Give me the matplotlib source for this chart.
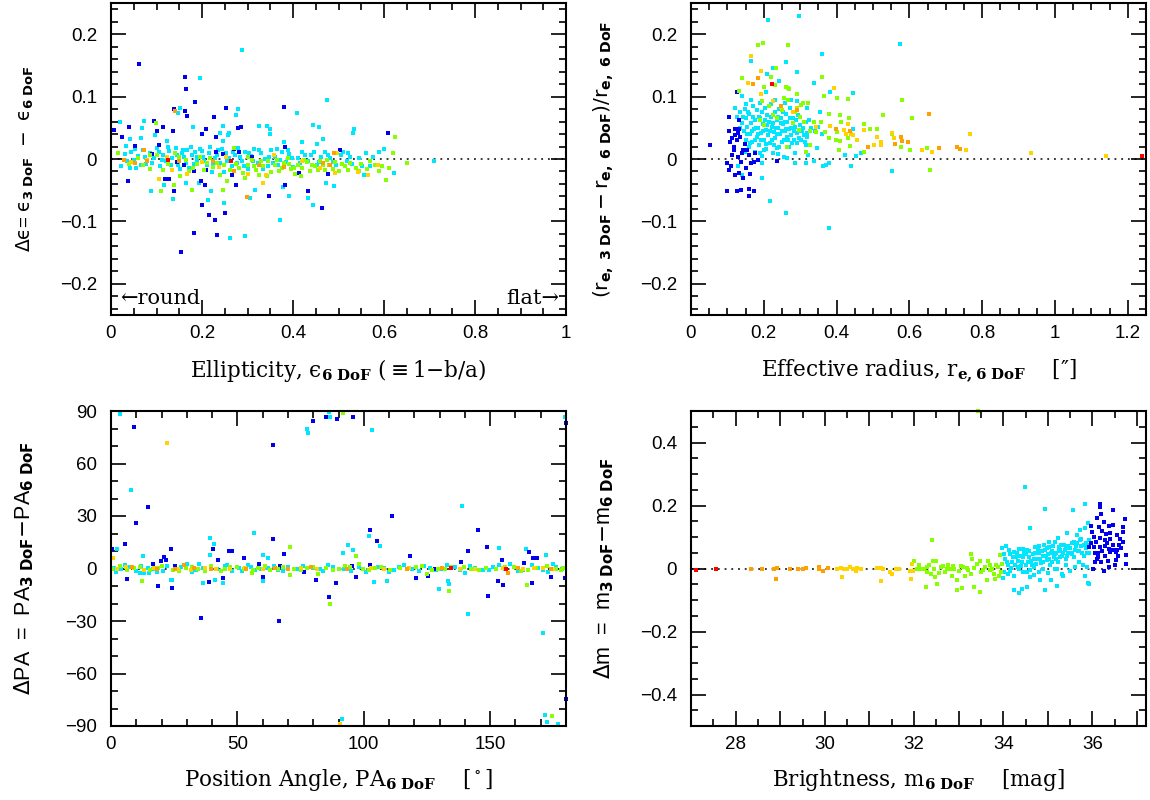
import matplotlib
matplotlib.use('Agg')
import matplotlib.pyplot as plt
from matplotlib.ticker import MultipleLocator

# colour per magnitude bin (bright -> faint)
COLORS = {'red': '#ff0000', 'orange': '#ffa000', 'yellow': '#ffd200',
          'green': '#88ff00', 'cyan': '#00e6ff', 'blue': '#0000ee'}

# ---------------------------------------------------------
# Panel 1: ellipticity vs delta ellipticity
# ---------------------------------------------------------
ell_blue = [(0.062, 0.152), (0.163, 0.132), (0.165, 0.112), (0.185, 0.091), (0.139, 0.080), (0.163, 0.077),
            (0.167, 0.069), (0.253, 0.081), (0.227, 0.067), (0.380, 0.083), (0.094, 0.061), (0.039, 0.051),
            (0.007, 0.046), (0.114, 0.051), (0.136, 0.045), (0.101, 0.045), (0.024, 0.036), (0.208, 0.048),
            (0.200, 0.040), (0.231, 0.035), (0.279, 0.050), (0.286, 0.052), (0.608, 0.042), (0.053, 0.021),
            (0.106, 0.023), (0.271, 0.016), (0.281, 0.011), (0.230, 0.011), (0.246, 0.008), (0.503, 0.014),
            (0.383, 0.020), (0.539, -0.015), (0.477, -0.024), (0.127, -0.032), (0.118, -0.032), (0.183, -0.020),
            (0.209, -0.018), (0.266, -0.025), (0.198, -0.035), (0.207, -0.041), (0.274, -0.041), (0.255, -0.035),
            (0.383, -0.041), (0.138, -0.051), (0.037, -0.036), (0.433, -0.051), (0.347, -0.060), (0.199, -0.073),
            (0.463, -0.078), (0.215, -0.089), (0.251, -0.087), (0.229, -0.097), (0.183, -0.119), (0.232, -0.121),
            (0.153, -0.149), (0.413, -0.022), (0.090, 0.008), (0.145, -0.005), (0.310, 0.004), (0.160, -0.010)]
ell_cyan = [(0.287, 0.174), (0.195, 0.130), (0.474, 0.095), (0.151, 0.082), (0.147, 0.074), (0.279, 0.080),
            (0.274, 0.070), (0.408, 0.074), (0.020, 0.059), (0.072, 0.061), (0.069, 0.050), (0.180, 0.052),
            (0.246, 0.053), (0.325, 0.053), (0.342, 0.053), (0.349, 0.048), (0.443, 0.055), (0.457, 0.052),
            (0.534, 0.048), (0.532, 0.042), (0.350, 0.040), (0.240, 0.042), (0.259, 0.042), (0.257, 0.039),
            (0.096, 0.039), (0.067, 0.034), (0.042, 0.032), (0.123, 0.029), (0.246, 0.029), (0.380, 0.027),
            (0.466, 0.032), (0.419, 0.027), (0.452, 0.024), (0.033, 0.021), (0.600, 0.016), (0.023, -0.012),
            (0.042, -0.015), (0.055, -0.015), (0.116, -0.041), (0.089, -0.051), (0.136, -0.064), (0.164, -0.038),
            (0.193, -0.038), (0.220, -0.052), (0.213, -0.066), (0.249, -0.070), (0.262, -0.127), (0.294, -0.124),
            (0.371, -0.098), (0.306, -0.062), (0.317, -0.049), (0.377, -0.045), (0.391, -0.059), (0.433, -0.062),
            (0.444, -0.073), (0.472, -0.038), (0.490, -0.043), (0.621, -0.022), (0.556, -0.025), (0.710, -0.004),
            (0.560, 0.010), (0.520, 0.010),
            (0.030, 0.008), (0.045, 0.012), (0.050, -0.002), (0.060, 0.005), (0.070, 0.014), (0.078, -0.008),
            (0.085, 0.010), (0.095, 0.002), (0.100, 0.017), (0.108, -0.012), (0.115, 0.006), (0.120, -0.004),
            (0.128, 0.013), (0.135, 0.001), (0.142, 0.018), (0.148, -0.009), (0.155, 0.009), (0.160, 0.003),
            (0.168, 0.015), (0.172, -0.015), (0.178, 0.007), (0.185, 0.012), (0.190, -0.003), (0.196, 0.016),
            (0.202, 0.004), (0.210, -0.010), (0.215, 0.010), (0.222, -0.021), (0.228, 0.002), (0.235, 0.014),
            (0.240, -0.006), (0.248, -0.021), (0.252, 0.010), (0.260, 0.001), (0.265, -0.012), (0.272, 0.007),
            (0.280, 0.018), (0.288, -0.003), (0.295, 0.012), (0.300, -0.016), (0.308, 0.005), (0.315, 0.016),
            (0.322, -0.006), (0.330, 0.009), (0.338, 0.000), (0.345, -0.012), (0.352, 0.014), (0.360, 0.004),
            (0.368, -0.009), (0.375, 0.011), (0.385, -0.005), (0.392, 0.008), (0.400, -0.013), (0.410, 0.002),
            (0.420, 0.012), (0.432, -0.004), (0.440, 0.006), (0.452, -0.010), (0.462, 0.003), (0.470, 0.011),
            (0.482, 0.002), (0.494, -0.010), (0.505, 0.006), (0.518, -0.003), (0.530, -0.008), (0.545, 0.002),
            (0.570, -0.012), (0.585, -0.010), (0.590, 0.011),
            (0.035, -0.004), (0.052, 0.016), (0.065, -0.010), (0.075, 0.003), (0.090, -0.006), (0.105, 0.011),
            (0.112, -0.002), (0.125, 0.020), (0.132, -0.010), (0.145, 0.006), (0.152, -0.016), (0.158, 0.014),
            (0.165, -0.006), (0.175, 0.019), (0.182, -0.008), (0.188, 0.004), (0.200, 0.013), (0.205, -0.004),
            (0.218, 0.019), (0.225, -0.008), (0.232, 0.007), (0.244, 0.016), (0.256, -0.004), (0.268, 0.012),
            (0.276, -0.007), (0.284, 0.004), (0.292, -0.012), (0.304, 0.010), (0.312, -0.004), (0.326, 0.014),
            (0.334, -0.016), (0.348, 0.004), (0.356, -0.006), (0.365, 0.016), (0.372, -0.002), (0.388, 0.014),
            (0.398, 0.002), (0.415, -0.007), (0.426, 0.006), (0.446, 0.012), (0.458, -0.005), (0.476, 0.006),
            (0.488, -0.005), (0.510, 0.012), (0.525, 0.004), (0.552, -0.012), (0.575, 0.004)]
ell_green = [(0.098, 0.058), (0.624, 0.036), (0.620, 0.009), (0.650, -0.006), (0.604, -0.034), (0.109, -0.051),
             (0.177, -0.049), (0.246, -0.049), (0.138, -0.041), (0.152, -0.028), (0.015, 0.009),
             (0.060, 0.002), (0.085, -0.016), (0.100, 0.006), (0.125, -0.008), (0.140, 0.010), (0.165, -0.002),
             (0.180, -0.014), (0.195, 0.004), (0.210, -0.006), (0.225, -0.013), (0.240, -0.025), (0.255, -0.035),
             (0.262, -0.018), (0.275, -0.008), (0.290, -0.022), (0.300, -0.010), (0.310, -0.002), (0.318, -0.018),
             (0.325, -0.026), (0.335, -0.012), (0.345, -0.004), (0.352, -0.021), (0.360, -0.010), (0.370, -0.020),
             (0.380, -0.007), (0.388, 0.002), (0.395, -0.016), (0.405, -0.024), (0.412, -0.009), (0.420, -0.015),
             (0.430, -0.005), (0.438, -0.020), (0.448, -0.012), (0.460, -0.003), (0.470, -0.018), (0.480, -0.010),
             (0.492, -0.005), (0.500, -0.020), (0.515, -0.012), (0.525, -0.006), (0.538, -0.014), (0.550, -0.008),
             (0.562, -0.016), (0.580, -0.010), (0.595, -0.012), (0.610, -0.014), (0.085, 0.007), (0.270, 0.018),
             (0.300, 0.004),
             (0.040, -0.008), (0.070, -0.010), (0.115, -0.018), (0.150, 0.004), (0.172, -0.020), (0.188, -0.008),
             (0.205, -0.018), (0.218, 0.002), (0.232, -0.006), (0.248, -0.010), (0.282, -0.014), (0.295, -0.030),
             (0.315, -0.012), (0.330, -0.004), (0.342, -0.028), (0.365, -0.002), (0.375, -0.014), (0.392, -0.008),
             (0.402, -0.014), (0.418, -0.028), (0.425, -0.002), (0.442, -0.010), (0.455, -0.018), (0.465, -0.010),
             (0.475, -0.002), (0.488, -0.016), (0.508, -0.008), (0.520, -0.018), (0.545, -0.020), (0.570, -0.004),
             (0.590, -0.020)]
ell_yellow = [(0.106, -0.032), (0.335, -0.038), (0.565, -0.025), (0.586, -0.010), (0.542, -0.021), (0.492, -0.023),
              (0.133, -0.017), (0.168, -0.024), (0.300, -0.024), (0.045, -0.005), (0.080, -0.002), (0.200, -0.005),
              (0.252, 0.003), (0.358, 0.006), (0.420, -0.003), (0.497, 0.010), (0.340, -0.025), (0.460, -0.014),
              (0.122, 0.004), (0.238, -0.013)]
ell_orange = [(0.141, 0.077), (0.299, -0.061), (0.053, -0.007), (0.029, -0.001), (0.467, -0.006), (0.481, -0.010),
              (0.490, 0.009), (0.073, 0.014), (0.150, -0.004), (0.225, -0.004), (0.270, -0.020), (0.325, -0.010),
              (0.380, -0.013), (0.080, -0.003)]
ell_red = [(0.125, -0.001), (0.263, -0.003)]

# ---------------------------------------------------------
# Panel 2: effective radius vs relative radius difference
# ---------------------------------------------------------
re_blue = [(0.053, 0.023), (0.105, 0.068), (0.131, 0.062), (0.126, 0.107), (0.105, 0.045), (0.122, 0.048),
           (0.131, 0.048), (0.120, 0.039), (0.106, 0.028), (0.118, 0.020), (0.143, 0.015), (0.154, 0.014),
           (0.113, 0.006), (0.128, 0.004), (0.136, -0.005), (0.099, -0.007), (0.105, -0.018), (0.166, -0.007),
           (0.173, -0.005), (0.185, -0.001), (0.235, -0.003), (0.162, -0.024), (0.132, -0.023), (0.122, -0.025),
           (0.143, -0.031), (0.100, -0.051), (0.125, -0.051), (0.138, -0.049), (0.158, -0.048), (0.172, -0.051),
           (0.158, -0.060), (0.125, 0.030), (0.135, 0.036), (0.112, 0.033), (0.148, 0.024), (0.140, 0.010),
           (0.117, 0.015), (0.160, 0.006), (0.128, 0.041), (0.110, -0.012), (0.150, -0.014), (0.176, 0.010)]
re_cyan = [(0.212, 0.222), (0.296, 0.229), (0.574, 0.184), (0.165, 0.157), (0.361, 0.168), (0.261, 0.155),
           (0.226, 0.146), (0.209, 0.136), (0.292, 0.139), (0.242, 0.125), (0.339, 0.122), (0.205, 0.107),
           (0.383, 0.107), (0.445, 0.106), (0.140, 0.101), (0.122, 0.082), (0.292, 0.093), (0.320, 0.082),
           (0.354, 0.075), (0.325, 0.063), (0.445, 0.048), (0.359, 0.040), (0.345, 0.018), (0.315, 0.023),
           (0.322, 0.007), (0.424, 0.007), (0.453, 0.005), (0.466, 0.010), (0.287, -0.007), (0.315, -0.006),
           (0.338, -0.004), (0.372, -0.009), (0.380, -0.006), (0.363, -0.012), (0.439, -0.011), (0.551, -0.019),
           (0.195, -0.007), (0.129, -0.012), (0.140, -0.025), (0.195, -0.031), (0.218, -0.068), (0.262, -0.087),
           (0.378, -0.111), (0.100, -0.007),
           (0.125, 0.068), (0.135, 0.075), (0.140, 0.058), (0.145, 0.045), (0.148, 0.080), (0.150, 0.030),
           (0.152, 0.065), (0.155, 0.052), (0.158, 0.020), (0.160, 0.072), (0.162, 0.040), (0.165, 0.058),
           (0.168, 0.028), (0.170, 0.085), (0.172, 0.048), (0.175, 0.012), (0.177, 0.062), (0.180, 0.035),
           (0.182, 0.078), (0.185, 0.050), (0.187, 0.022), (0.190, 0.066), (0.192, 0.042), (0.195, 0.005),
           (0.197, 0.056), (0.200, 0.030), (0.202, 0.082), (0.205, 0.047), (0.207, 0.016), (0.210, 0.070),
           (0.212, 0.038), (0.215, 0.060), (0.217, 0.025), (0.220, 0.088), (0.222, 0.052), (0.225, 0.010),
           (0.227, 0.044), (0.230, 0.075), (0.232, 0.033), (0.235, 0.062), (0.237, 0.018), (0.240, 0.050),
           (0.242, 0.080), (0.245, 0.040), (0.248, 0.066), (0.250, 0.028), (0.253, 0.056), (0.255, 0.003),
           (0.258, 0.045), (0.260, 0.072), (0.263, 0.035), (0.265, 0.059), (0.268, 0.020), (0.270, 0.048),
           (0.273, 0.082), (0.276, 0.038), (0.280, 0.065), (0.283, 0.030), (0.286, 0.052), (0.290, 0.042),
           (0.293, 0.070), (0.296, 0.034), (0.300, 0.055), (0.305, 0.045), (0.310, 0.038), (0.315, 0.060),
           (0.320, 0.042), (0.330, 0.050), (0.340, 0.045), (0.350, 0.052), (0.285, 0.010), (0.265, 0.002),
           (0.240, 0.008), (0.200, 0.015), (0.150, 0.088), (0.165, 0.095), (0.190, 0.090), (0.230, 0.095),
           (0.258, 0.090), (0.275, 0.095),
           (0.135, 0.050), (0.142, 0.068), (0.147, 0.012), (0.153, 0.040), (0.157, 0.075), (0.163, 0.025),
           (0.167, 0.045), (0.171, 0.068), (0.176, 0.030), (0.178, 0.050), (0.183, 0.040), (0.186, 0.068),
           (0.189, 0.010), (0.193, 0.030), (0.196, 0.075), (0.199, 0.045), (0.203, 0.062), (0.206, 0.024),
           (0.209, 0.055), (0.213, 0.085), (0.216, 0.045), (0.219, 0.068), (0.223, 0.030), (0.226, 0.058),
           (0.229, 0.022), (0.233, 0.050), (0.236, 0.040), (0.239, 0.068), (0.243, 0.020), (0.246, 0.058),
           (0.249, 0.045), (0.252, 0.075), (0.256, 0.030), (0.259, 0.060), (0.262, 0.048), (0.267, 0.030),
           (0.271, 0.065), (0.274, 0.050), (0.278, 0.025), (0.282, 0.045), (0.288, 0.062), (0.292, 0.025),
           (0.298, 0.045), (0.303, 0.030), (0.308, 0.050), (0.312, 0.028), (0.318, 0.035)]
re_green = [(0.185, 0.182), (0.198, 0.186), (0.267, 0.182), (0.234, 0.146), (0.219, 0.131), (0.141, 0.130),
            (0.231, 0.119), (0.262, 0.116), (0.266, 0.113), (0.270, 0.112), (0.201, 0.115), (0.132, 0.109),
            (0.361, 0.131), (0.366, 0.101), (0.400, 0.098), (0.430, 0.096), (0.292, 0.104), (0.267, 0.094),
            (0.309, 0.090), (0.322, 0.089), (0.302, 0.086), (0.580, 0.095), (0.527, 0.070), (0.607, 0.066),
            (0.378, 0.072), (0.408, 0.071), (0.434, 0.066), (0.413, 0.059), (0.474, 0.056), (0.491, 0.048),
            (0.511, 0.048), (0.369, 0.044), (0.400, 0.044), (0.343, 0.044), (0.328, 0.045), (0.297, 0.046),
            (0.338, 0.060), (0.356, 0.059), (0.380, 0.034), (0.408, 0.029), (0.397, 0.030), (0.431, 0.034),
            (0.436, 0.021), (0.406, 0.015), (0.328, 0.023), (0.317, 0.012), (0.263, 0.020), (0.474, 0.012),
            (0.576, 0.020), (0.601, 0.015), (0.648, 0.018), (0.657, -0.017), (0.552, 0.040), (0.190, 0.062),
            (0.200, 0.055), (0.215, 0.085), (0.225, 0.070), (0.250, 0.078), (0.280, 0.058), (0.290, 0.082),
            (0.300, 0.068), (0.310, 0.060), (0.255, 0.098), (0.285, 0.075), (0.195, 0.093), (0.235, 0.065)]
re_yellow = [(0.165, 0.165), (0.193, 0.141), (0.156, 0.121), (0.193, 0.104), (0.224, 0.093), (0.246, 0.084),
             (0.292, 0.080), (0.281, 0.075), (0.392, 0.114), (0.381, 0.053), (0.343, 0.052), (0.420, 0.047),
             (0.430, 0.056), (0.426, 0.040), (0.439, 0.040), (0.444, 0.038), (0.455, 0.031), (0.474, 0.047),
             (0.511, 0.036), (0.522, 0.022), (0.522, 0.028), (0.502, 0.023), (0.551, 0.042), (0.557, 0.033),
             (0.634, 0.015), (0.663, 0.012), (0.756, 0.015), (0.767, 0.040), (0.935, 0.009), (1.139, 0.005)]
re_orange = [(0.184, 0.130), (0.170, 0.120), (0.653, 0.072), (0.292, 0.078), (0.248, 0.085), (0.398, 0.048),
             (0.436, 0.045), (0.485, 0.020), (0.561, 0.024), (0.576, 0.036), (0.580, 0.029), (0.596, 0.028),
             (0.681, 0.018), (0.731, 0.020), (0.740, 0.016)]
re_red = [(0.223, 0.120), (1.239, 0.005)]

# ---------------------------------------------------------
# Panel 3: position angle vs delta PA
# ---------------------------------------------------------
pa_blue = [(9.0, 80.7), (80.1, 84.5), (85.0, 86.8), (89.4, 85.6), (95.8, 86.8), (64.2, 70.6), (14.6, 35.1),
           (9.8, 26.1), (111.1, 30.1), (102.4, 22.1), (105.2, 15.8), (145.3, 22.1), (141.3, 10.1), (138.4, 3.6),
           (5.6, 14.1), (0.4, 11.3), (23.8, 11.3), (40.4, 11.3), (46.7, 10.1), (47.9, 10.1), (64.2, 17.0),
           (68.6, 8.4), (52.7, 6.1), (21.1, 6.7), (21.7, 4.8), (19.9, 4.4), (42.4, 5.0), (118.3, 7.2),
           (148.6, 12.4), (165.2, 9.5), (166.9, 6.1), (168.7, 6.1), (154.6, 4.8), (163.4, 3.2), (6.4, -5.9),
           (18.7, -9.9), (24.1, -11.1), (38.8, -7.6), (44.4, -5.3), (60.3, -5.1), (81.1, -6.7), (97.0, -4.8),
           (89.0, -8.2), (120.7, -5.3), (125.4, -4.2), (153.2, -7.1), (154.9, -9.3), (166.5, -8.2), (174.0, -4.8),
           (179.6, -5.3), (86.2, -16.2), (149.3, -15.6), (35.6, -28.2), (66.6, -29.9), (179.9, 83.3),
           (179.9, -74.6), (76.2, -1.9), (67.0, 1.5), (58.5, 2.5), (16.6, 2.5), (25.4, 1.5), (95.4, 1.5),
           (102.4, 2.1), (128.1, 0.0)]
pa_cyan = [(3.6, 88.5), (86.2, 89.6), (86.5, 86.8), (77.7, 79.7), (78.1, 77.6), (103.2, 79.3), (7.9, 45.0),
           (139.0, 35.7), (39.3, 17.5), (40.6, 14.1), (56.4, 20.4), (39.3, 7.8), (12.6, 7.2), (2.5, 11.3),
           (60.3, 7.8), (62.3, 6.1), (91.8, 8.9), (93.8, 13.5), (95.7, 10.7), (102.0, 18.7), (106.3, 12.8),
           (153.4, 11.8), (164.1, 11.3), (172.0, 7.8), (179.5, 86.8), (141.3, -25.9), (170.9, -36.8),
           (171.5, -83.7), (172.5, -87.7), (176.7, -88.9), (91.3, -86.0), (129.9, -11.6), (133.4, -7.1),
           (133.8, -8.8), (104.1, -7.6), (109.3, -7.1), (36.2, -8.2), (44.5, -8.2), (41.3, -6.4), (60.3, -7.1),
           (24.1, -6.4), (23.7, -6.4), (11.3, -2.7), (13.0, -2.7), (15.0, -2.7),
           (1.0, 0.5), (4.0, -0.5), (7.5, 1.0), (10.0, -1.5), (14.5, 0.5), (18.0, -2.0), (22.0, 1.5),
           (26.0, -0.5), (30.0, 2.5), (33.5, -1.0), (36.5, 0.5), (45.0, 1.5), (48.0, -1.5), (50.5, 0.5),
           (54.0, 2.0), (57.0, -1.0), (62.0, 0.5), (66.0, -1.0), (70.0, 1.0), (73.5, -0.5), (80.0, 0.5),
           (84.0, -1.5), (88.0, 1.0), (92.0, -0.5), (98.0, 1.0), (101.0, -2.0), (108.0, 0.5), (112.0, -1.0),
           (116.0, 2.0), (119.0, -0.5), (122.0, -1.5), (126.0, 0.5), (131.0, -0.5), (136.0, 1.0),
           (140.0, -2.5), (144.0, 0.5), (147.0, -1.0), (151.0, 1.0), (156.0, -0.5), (158.0, 2.5),
           (161.0, -1.5), (169.0, 0.5), (173.0, -2.0), (176.0, 1.0), (178.5, -0.5),
           (2.0, -1.8), (5.5, 1.8), (12.0, 1.2), (16.5, -0.5), (20.5, -1.5), (27.5, 0.8), (32.0, -2.0),
           (35.0, 2.5), (42.0, -0.5), (46.0, 2.0), (52.0, -1.5), (55.5, 0.8), (59.5, -0.5), (64.5, 1.5),
           (68.0, -1.5), (76.0, 1.5), (82.5, -0.5), (86.0, 2.0), (95.0, -1.5), (105.5, 1.0), (110.0, -1.8),
           (114.0, 0.8), (124.0, 1.5), (128.5, -1.0), (133.0, 2.0), (138.0, -1.0), (142.0, 1.5),
           (149.5, -0.8), (153.5, 1.8), (163.0, -0.8), (166.5, 1.8), (171.0, -1.0), (175.0, 2.5)]
pa_green = [(91.8, 89.1), (86.5, -20.2), (71.0, 12.4), (97.0, 7.2), (98.0, 2.7), (133.8, -12.8), (174.4, -84.3),
            (12.2, -7.2), (164.4, -9.5), (125.0, -3.0), (82.0, -3.0), (71.0, -3.6), (55.9, -2.7),
            (0.5, -0.5), (3.5, 1.5), (9.0, 0.5), (15.5, -1.0), (20.0, 1.5), (24.5, -0.8), (29.5, 0.2),
            (34.5, -0.5), (39.5, 1.5), (43.5, -1.2), (47.0, 0.8), (52.5, -0.2), (58.0, 0.5), (63.0, -0.8),
            (68.0, 0.8), (72.5, -0.2), (77.5, 0.5), (85.0, 0.3), (90.0, -0.5), (94.5, 0.8), (99.5, -0.3),
            (104.5, 0.5), (110.5, -0.8), (114.5, 0.3), (120.5, 0.8), (129.5, -0.5), (134.5, 0.6), (142.5, -0.5),
            (148.5, 0.4), (152.5, -0.2), (159.5, 0.8), (165.0, -0.6), (172.5, 1.2), (176.0, 0.0), (179.0, 0.5),
            (6.5, -1.0), (11.5, 1.0), (18.5, 0.5), (27.0, -1.2), (32.0, 1.0), (37.0, -1.5), (45.0, -0.5),
            (50.0, 1.0), (56.0, -1.0), (61.0, 1.2), (66.0, 0.0), (75.0, -1.0), (80.0, 1.0), (88.0, -1.0),
            (92.5, 1.5), (102.0, -1.0), (107.0, 1.0), (117.0, -0.5), (123.0, 1.5), (127.0, -1.0), (132.0, 0.0),
            (139.5, 1.0), (145.5, -1.0), (156.0, 1.0), (162.0, -1.2), (168.0, 0.5), (178.0, -1.0)]
pa_yellow = [(22.1, 71.9), (0.7, 6.1), (90.5, -88.9), (2.5, -0.2), (6.0, 0.8), (13.0, -0.6), (17.0, 0.4),
             (26.5, 0.0), (31.5, -0.6), (37.0, 0.3), (41.5, 0.0), (47.0, -0.3), (53.0, 0.2), (60.0, -0.4),
             (75.0, 0.5), (81.5, -0.5), (103.0, 0.2), (108.0, -0.2), (118.0, 0.5), (138.0, 0.0), (144.0, -0.3),
             (155.0, 0.5), (163.0, -0.4), (167.5, 0.3), (171.0, 0.5), (175.0, -0.2)]
pa_orange = [(8.5, 1.0), (18.0, -0.4), (25.5, -0.5), (29.0, 2.0), (33.0, 0.3), (39.5, -0.5), (53.5, -0.5),
             (65.0, 0.4), (70.0, -0.3), (79.0, 0.7), (93.5, 0.0), (117.0, -0.5), (131.0, 0.3), (157.0, -2.8),
             (161.0, 0.2), (174.0, -0.3)]
pa_red = [(134.4, 0.2), (156.3, -0.2)]

# ---------------------------------------------------------
# Panel 4: brightness vs delta magnitude
# ---------------------------------------------------------
mag_blue = [(36.16, 0.205), (36.16, 0.196), (36.47, 0.187), (36.20, 0.174), (36.11, 0.161), (36.72, 0.158),
            (36.26, 0.149), (36.14, 0.133), (36.37, 0.136), (36.47, 0.139), (36.69, 0.133), (36.69, 0.117),
            (35.97, 0.136), (36.40, 0.114), (36.04, 0.101), (36.16, 0.098), (35.97, 0.082), (36.28, 0.089),
            (36.40, 0.094), (36.62, 0.094), (36.69, 0.085), (36.04, 0.069), (36.16, 0.069), (36.27, 0.072),
            (36.37, 0.063), (36.46, 0.059), (36.52, 0.053), (36.12, 0.050), (36.27, 0.040), (36.40, 0.051),
            (36.75, 0.044), (36.76, 0.015), (36.12, 0.037), (36.19, 0.021), (36.53, 0.027), (36.37, 0.005),
            (36.01, -0.001), (36.25, -0.007), (36.06, 0.021), (35.93, 0.069), (36.55, 0.060), (36.60, 0.075),
            (36.30, 0.110), (36.00, 0.115),
            (36.08, 0.085), (36.22, 0.055), (36.33, 0.080), (36.45, 0.075), (36.58, 0.040), (36.65, 0.065),
            (36.10, 0.030), (36.35, 0.025), (36.50, 0.010), (36.22, 0.120), (36.55, 0.105), (36.05, 0.050)]
mag_cyan = [(34.49, 0.260), (34.94, 0.190), (35.57, 0.187), (35.84, 0.206), (34.60, 0.130), (35.43, 0.114),
            (35.73, 0.123), (35.90, 0.145), (35.84, 0.130), (35.66, 0.107), (35.22, 0.098), (35.03, 0.085),
            (35.16, 0.085), (33.98, 0.066), (34.06, 0.072),
            (34.23, 0.053), (34.35, 0.063), (34.44, 0.063), (34.53, 0.059), (34.72, 0.069), (34.81, 0.072),
            (34.92, 0.076), (35.03, 0.069), (35.26, 0.069), (35.41, 0.072), (35.48, 0.066), (35.59, 0.085),
            (35.74, 0.095), (35.86, 0.082),
            (34.05, 0.030), (34.10, 0.010), (34.15, 0.045), (34.20, 0.020), (34.28, 0.035), (34.32, 0.005),
            (34.38, 0.040), (34.42, 0.022), (34.47, 0.050), (34.52, 0.012), (34.57, 0.035), (34.62, 0.025),
            (34.67, 0.045), (34.70, 0.005), (34.76, 0.030), (34.80, 0.050), (34.85, 0.018), (34.88, 0.040),
            (34.93, 0.060), (34.97, 0.028), (35.00, 0.045), (35.05, 0.010), (35.09, 0.055), (35.13, 0.035),
            (35.18, 0.050), (35.22, 0.020), (35.27, 0.060), (35.31, 0.040), (35.36, 0.075), (35.40, 0.030),
            (35.45, 0.050), (35.50, 0.065), (35.55, 0.045), (35.60, 0.060), (35.65, 0.080), (35.70, 0.055),
            (35.75, 0.070), (35.80, 0.040), (35.85, 0.065), (35.90, 0.075), (35.93, 0.050), (34.35, 0.000),
            (34.60, -0.005), (34.90, 0.000), (35.20, -0.002), (35.60, 0.005), (35.78, 0.012), (35.88, 0.005),
            (34.25, -0.068), (34.35, -0.078), (34.43, -0.065), (34.53, -0.059), (34.61, -0.027), (34.93, -0.068),
            (35.20, -0.055), (34.83, -0.036), (35.08, -0.036), (35.31, -0.017), (35.33, -0.024), (35.84, -0.023),
            (35.90, -0.046), (35.93, -0.049), (34.10, -0.017), (33.99, -0.030), (34.01, -0.011), (34.25, -0.023),
            (34.53, -0.011), (34.70, -0.020), (35.00, -0.015), (35.50, -0.008),
            (34.02, 0.045), (34.08, 0.020), (34.12, 0.060), (34.18, 0.002), (34.22, 0.038), (34.26, 0.010),
            (34.30, 0.050), (34.34, 0.025), (34.40, 0.008), (34.45, 0.035), (34.50, 0.045), (34.55, 0.020),
            (34.58, 0.055), (34.64, 0.010), (34.68, 0.030), (34.72, 0.048), (34.74, 0.015), (34.78, 0.060),
            (34.82, 0.030), (34.86, 0.055), (34.90, 0.020), (34.95, 0.040), (34.98, 0.065), (35.02, 0.030),
            (35.06, 0.050), (35.10, 0.020), (35.12, 0.070), (35.15, 0.045), (35.19, 0.030), (35.24, 0.055),
            (35.28, 0.035), (35.30, 0.075), (35.34, 0.050), (35.38, 0.060), (35.42, 0.040), (35.46, 0.070),
            (35.52, 0.050), (35.54, 0.080), (35.58, 0.035), (35.62, 0.070), (35.67, 0.055), (35.72, 0.090),
            (35.76, 0.050), (35.82, 0.075), (35.87, 0.050), (35.92, 0.090), (34.15, -0.008), (34.45, -0.012),
            (34.80, -0.010), (35.15, 0.000), (35.40, 0.010), (35.70, 0.020)]
mag_green = [(32.00, 0.024), (32.07, 0.000), (32.14, 0.000), (32.22, -0.003), (32.29, -0.011), (32.33, 0.012),
             (32.37, -0.016), (32.40, 0.091), (32.42, 0.024), (32.50, 0.024), (32.48, -0.027), (32.26, -0.059),
             (32.52, -0.049), (32.56, -0.014), (32.66, 0.009), (32.74, -0.003), (32.77, 0.012), (32.87, 0.009),
             (32.84, -0.023), (32.96, -0.037), (32.96, -0.068), (33.07, -0.062), (33.14, -0.023), (33.06, 0.009),
             (33.19, 0.002), (33.28, 0.045), (33.30, 0.031), (33.28, -0.016), (33.34, -0.059), (33.41, 0.015),
             (33.48, 0.024), (33.48, -0.074), (33.63, -0.037), (33.65, 0.024), (33.71, -0.004), (33.79, -0.017),
             (33.82, -0.034), (33.83, 0.012), (33.90, -0.024), (33.93, 0.043), (33.98, 0.015), (33.43, 0.500),
             (33.60, 0.005), (33.20, -0.005), (32.90, 0.000), (33.50, -0.010), (33.75, 0.000), (32.60, 0.005),
             (32.10, 0.010), (32.45, 0.000), (32.70, -0.010), (32.80, 0.000), (33.00, -0.008), (33.10, 0.005),
             (33.35, 0.002), (33.55, -0.005), (33.70, 0.010), (33.88, 0.005), (33.95, -0.010), (32.30, 0.005)]
mag_yellow = [(30.28, -0.003), (30.36, 0.002), (30.38, -0.027), (30.42, -0.003), (30.49, -0.003), (30.57, 0.005),
              (30.63, 0.000), (30.70, -0.007), (30.73, 0.002), (30.81, 0.000), (31.17, 0.002), (31.25, 0.002),
              (31.25, -0.039), (31.30, 0.000), (31.47, -0.011), (31.51, -0.017), (31.60, -0.003), (31.67, -0.003),
              (31.92, -0.007), (31.96, 0.015), (31.94, -0.032), (31.98, -0.007)]
mag_orange = [(28.34, 0.000), (28.60, 0.000), (28.85, -0.003), (28.93, 0.002), (28.90, -0.034), (29.21, -0.003),
              (29.40, 0.000), (29.52, -0.003), (29.57, 0.003), (29.86, 0.005), (29.88, 0.000), (29.97, -0.007),
              (30.07, 0.002)]
mag_red = [(27.12, -0.004), (27.55, -0.001)]

SANS = 'Liberation Sans'
SERIF = 'DejaVu Serif'
EPS = '\u03f5'  # lunate epsilon


def draw_panel(ax, groups, xlim, ylim, xmaj, xmin, ymaj, ymin, xlabel, ylabel, ylab_size=13.5):
    ax.axhline(0, color='k', ls=(0, (1.2, 3.2)), lw=1.1, zorder=1)
    for name in ['cyan', 'blue', 'green', 'yellow', 'orange', 'red']:
        pts = groups[name]
        ax.plot([p[0] for p in pts], [p[1] for p in pts], 's', ms=3.3, mew=0,
                color=COLORS[name], zorder=2, clip_on=False)
    ax.set_xlim(*xlim)
    ax.set_ylim(*ylim)
    ax.xaxis.set_major_locator(MultipleLocator(xmaj))
    ax.xaxis.set_minor_locator(MultipleLocator(xmin))
    ax.yaxis.set_major_locator(MultipleLocator(ymaj))
    ax.yaxis.set_minor_locator(MultipleLocator(ymin))
    ax.xaxis.set_major_formatter(plt.FuncFormatter(lambda v, p: f"{v:g}"))
    ax.yaxis.set_major_formatter(plt.FuncFormatter(lambda v, p: f"{v:g}".replace('-', '\u2212')))
    ax.tick_params(which='both', direction='in', top=True, right=True, width=1.2)
    ax.tick_params(which='major', length=10.5)
    ax.tick_params(which='minor', length=5)
    ax.tick_params(axis='y', pad=10, labelsize=13.5)
    ax.tick_params(axis='x', pad=7, labelsize=13.5)
    for lab in ax.get_xticklabels() + ax.get_yticklabels():
        lab.set_family(SANS)
    for sp in ax.spines.values():
        sp.set_linewidth(1.5)
    ax.set_xlabel(xlabel, fontsize=15.5, family=SERIF, math_fontfamily='dejavuserif')
    ax.set_ylabel(ylabel, fontsize=ylab_size, family=[SANS, 'DejaVu Sans'], math_fontfamily='dejavusans')


fig = plt.figure(figsize=(11.5, 8), dpi=100)
W, H = 1150, 800
ax1 = fig.add_axes([111 / W, 1 - 315 / H, 455 / W, 312 / H])
ax2 = fig.add_axes([691 / W, 1 - 315 / H, 455 / W, 312 / H])
ax3 = fig.add_axes([111 / W, 1 - 726 / H, 455 / W, 315 / H])
ax4 = fig.add_axes([691 / W, 1 - 726 / H, 455 / W, 315 / H])

draw_panel(ax1, dict(blue=ell_blue, cyan=ell_cyan, green=ell_green, yellow=ell_yellow,
                     orange=ell_orange, red=ell_red),
           (0, 1), (-0.25, 0.25), 0.2, 0.05, 0.1, 0.02,
           'Ellipticity, $\\mathrm{' + EPS + '}_{\\mathbf{6\\ DoF}}$ ($\\equiv$1$-$b/a)',
           '$\\Delta\\mathrm{' + EPS + '}$= $\\mathrm{' + EPS + '}_{\\mathbf{3\\ DoF}}$  $-$  $\\mathrm{'
           + EPS + '}_{\\mathbf{6\\ DoF}}$', 13.5)
ax1.text(0.02, 0.035, '\u2190round', transform=ax1.transAxes, fontsize=15, family=SERIF)
ax1.text(0.985, 0.035, 'flat\u2192', transform=ax1.transAxes, fontsize=15, family=SERIF, ha='right')

draw_panel(ax2, dict(blue=re_blue, cyan=re_cyan, green=re_green, yellow=re_yellow,
                     orange=re_orange, red=re_red),
           (0, 1.25), (-0.25, 0.25), 0.2, 0.05, 0.1, 0.02,
           'Effective radius, r$_{\\mathbf{e,6\\ DoF}}$    [\u2033]',
           r'$(\mathrm{r}_{\mathbf{e,\ 3\ DoF}}-\mathrm{r}_{\mathbf{e,\ 6\ DoF}})/\mathrm{r}_{\mathbf{e,\ 6\ DoF}}$',
           14.5)

draw_panel(ax3, dict(blue=pa_blue, cyan=pa_cyan, green=pa_green, yellow=pa_yellow,
                     orange=pa_orange, red=pa_red),
           (0, 180), (-90, 90), 50, 10, 30, 10,
           r'Position Angle, PA$_{\mathbf{6\ DoF}}$    [$^\circ$]',
           r'$\Delta$PA  =  PA$_{\mathbf{3\ DoF}}$$-$PA$_{\mathbf{6\ DoF}}$', 15.5)

draw_panel(ax4, dict(blue=mag_blue, cyan=mag_cyan, green=mag_green, yellow=mag_yellow,
                     orange=mag_orange, red=mag_red),
           (27, 37.2), (-0.5, 0.5), 1, 0.5, 0.2, 0.05,
           r'Brightness, m$_{\mathbf{6\ DoF}}$    [mag]',
           r'$\Delta$m  =  m$_{\mathbf{3\ DoF}}$$-$m$_{\mathbf{6\ DoF}}$', 15.5)
# only even magnitudes are labelled
ax4.xaxis.set_major_formatter(plt.FuncFormatter(lambda v, p: f"{v:g}" if round(v) % 2 == 0 else ""))

for ax in (ax1, ax2):
    ax.xaxis.set_label_coords(0.5, -0.135)
    ax.yaxis.set_label_coords(-0.165, 0.5)
for ax in (ax3, ax4):
    ax.xaxis.set_label_coords(0.5, -0.13)
    ax.yaxis.set_label_coords(-0.165, 0.5)

fig.savefig('out.png', dpi=100)
